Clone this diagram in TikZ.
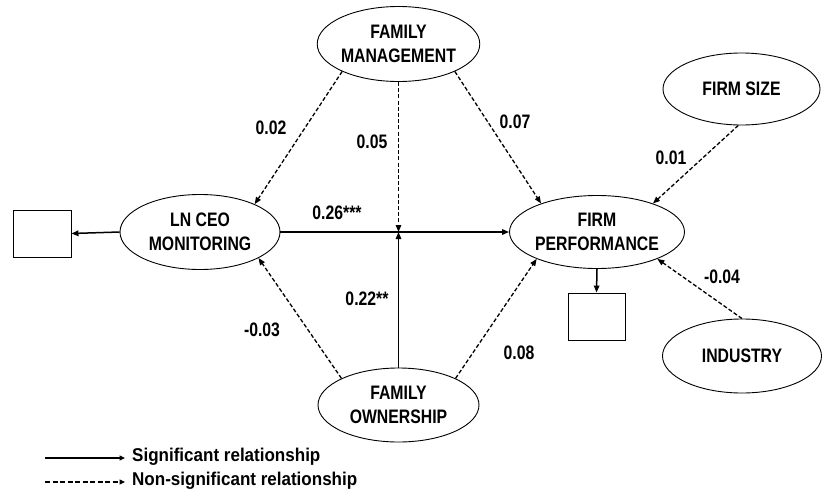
\documentclass[tikz,border=0pt]{standalone}
\usepackage{fontspec}
\setmainfont{Liberation Sans}[FakeStretch=0.81]
\newfontfamily\legendfont{Liberation Sans}[FakeStretch=0.92]
\usetikzlibrary{shapes.geometric,arrows.meta}
\tikzset{
  lat/.style={ellipse, draw, line width=0.9pt, minimum width=160pt, minimum height=75pt,
    inner sep=0pt, align=center, font=\fontsize{19.5}{23.5}\selectfont\bfseries},
  obs/.style={rectangle, draw, line width=0.9pt, minimum width=58pt, minimum height=47pt, inner sep=0pt},
  sig/.style={line width=1.5pt, -{Triangle[length=7pt,width=5.5pt]}},
  nsig/.style={line width=1.3pt, dash pattern=on 4pt off 2.2pt, -{Triangle[length=7pt,width=5.5pt]}},
  lbl/.style={font=\fontsize{19.5}{23.5}\selectfont\bfseries, inner sep=0pt},
  leg/.style={font=\legendfont\fontsize{18.5}{22}\selectfont\bfseries, inner sep=0pt, anchor=west}
}
\begin{document}
\begin{tikzpicture}[x=1pt,y=-1pt]
\useasboundingbox (0,0) rectangle (822,493);
% latent variables
\node[lat] (fm) at (398.5,44) {FAMILY\\MANAGEMENT};
\node[lat] (lnceo) at (200,232) {LN CEO\\MONITORING};
\node[lat, minimum height=73pt] (fp) at (597,232) {FIRM\\PERFORMANCE};
\node[lat, minimum width=157pt, minimum height=72pt] (fs) at (741.5,89) {FIRM SIZE};
\node[lat, minimum width=159pt, minimum height=74pt] (ind) at (742,356) {INDUSTRY};
\node[lat, minimum width=161pt, minimum height=74pt] (fo) at (398.5,405) {FAMILY\\OWNERSHIP};
% observed boxes
\node[obs] (boxL) at (42,233.5) {};
\node[obs, minimum width=57pt] (boxB) at (596.5,316.5) {};
\coordinate (j) at (398.5,232);
% connectors
\draw[sig] (lnceo.west) -- (boxL.east);
\draw[sig] (lnceo.east) -- (fp.west);
\draw[nsig] (fm.south) -- (j);
\draw[sig] (fo.north) -- (j);
\draw[nsig] (fm.206) -- (lnceo.27);
\draw[nsig] (fm.334) -- (fp.153);
\draw[nsig] (fs.265) -- (fp.27);
\draw[nsig] (ind.north) -- (fp.-24);
\draw[nsig] (fo.155) -- (lnceo.-24);
\draw[nsig] (fo.25) -- (fp.204);
\draw[sig] (fp.south) -- (boxB.north);
% coefficient labels
\node[lbl] (l1) at (271,128) {0.02};
\node[lbl] (l2) at (372,142) {0.05};
\node[lbl] (l3) at (515,122) {0.07};
\node[lbl] (l4) at (337,213) {0.26***};
\node[lbl] (l5) at (671,158) {0.01};
\node[lbl] (l6) at (722,277) {-0.04};
\node[lbl] (l7) at (367,299) {0.22**};
\node[lbl] (l8) at (262,330) {-0.03};
\node[lbl] (l9) at (519,353) {0.08};
% legend
\coordinate (ga) at (45,458);
\coordinate (gb) at (125,458);
\coordinate (ha) at (45,482);
\coordinate (hb) at (125,482);
\draw[line width=1.3pt, -{Triangle[length=5.5pt,width=5pt]}] (ga) -- (gb);
\draw[line width=1.2pt, dash pattern=on 5pt off 2.5pt, -{Triangle[length=5.5pt,width=5pt]}] (ha) -- (hb);
\node[leg] (t1) at (132,457) {Significant relationship};
\node[leg] (t2) at (132,481) {Non-significant relationship};
\end{tikzpicture}
\end{document}
